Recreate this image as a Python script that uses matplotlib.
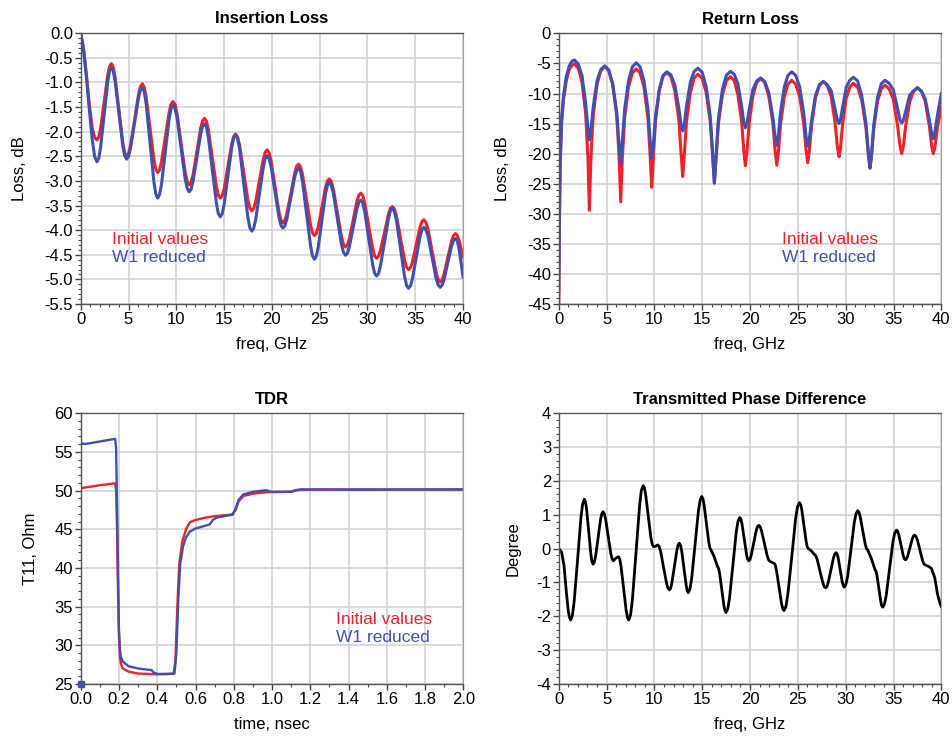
import matplotlib.pyplot as plt
from matplotlib.ticker import MultipleLocator, FormatStrFormatter

plt.rcParams['font.family'] = ['Liberation Sans', 'DejaVu Sans']
plt.rcParams['axes.unicode_minus'] = False

RED = '#EE2229'
BLUE = '#4050B0'

# ---------------- Insertion loss (S21, dB) ----------------
il_freq = [0, 0.3, 0.6, 0.9, 1.2, 1.45, 1.7,
           1.89, 2.08, 2.45, 2.83, 3.01, 3.2,
           3.4, 3.6, 4.0, 4.4, 4.6, 4.8,
           5.01, 5.21, 5.63, 6.04, 6.24, 6.45,
           6.65, 6.85, 7.25, 7.65, 7.85, 8.05,
           8.25, 8.45, 8.85, 9.25, 9.45, 9.65,
           9.86, 10.08, 10.5, 10.93, 11.14, 11.35,
           11.55, 11.75, 12.15, 12.55, 12.75, 12.95,
           13.16, 13.36, 13.78, 14.19, 14.39, 14.6,
           14.8, 15.0, 15.4, 15.8, 16.0, 16.2,
           16.41, 16.63, 17.05, 17.48, 17.69, 17.9,
           18.1, 18.3, 18.7, 19.1, 19.3, 19.5,
           19.71, 19.91, 20.33, 20.74, 20.94, 21.15,
           21.36, 21.56, 21.98, 22.39, 22.59, 22.8,
           23.01, 23.21, 23.63, 24.04, 24.24, 24.45,
           24.64, 24.84, 25.23, 25.61, 25.81, 26.0,
           26.21, 26.43, 26.85, 27.28, 27.49, 27.7,
           27.9, 28.1, 28.5, 28.9, 29.1, 29.3,
           29.51, 29.71, 30.13, 30.54, 30.74, 30.95,
           31.16, 31.36, 31.78, 32.19, 32.39, 32.6,
           32.81, 33.03, 33.45, 33.88, 34.09, 34.3,
           34.5, 34.7, 35.1, 35.5, 35.7, 35.9,
           36.11, 36.33, 36.75, 37.18, 37.39, 37.6,
           37.8, 38.0, 38.4, 38.8, 39.0, 39.2,
           39.4, 39.6, 40]

il_initial = [0, -0.33, -0.85, -1.45, -1.92, -2.12, -2.17,
              -2.11, -1.94, -1.40, -0.85, -0.68, -0.62,
              -0.69, -0.90, -1.56, -2.22, -2.43, -2.50,
              -2.44, -2.28, -1.77, -1.25, -1.09, -1.03,
              -1.10, -1.30, -1.93, -2.56, -2.76, -2.83,
              -2.78, -2.61, -2.11, -1.61, -1.45, -1.39,
              -1.45, -1.64, -2.24, -2.83, -3.02, -3.08,
              -3.03, -2.88, -2.41, -1.93, -1.78, -1.73,
              -1.79, -1.97, -2.54, -3.11, -3.29, -3.35,
              -3.30, -3.16, -2.70, -2.25, -2.10, -2.05,
              -2.11, -2.28, -2.83, -3.38, -3.55, -3.61,
              -3.56, -3.42, -2.99, -2.56, -2.42, -2.37,
              -2.43, -2.59, -3.11, -3.63, -3.79, -3.85,
              -3.80, -3.67, -3.26, -2.84, -2.70, -2.66,
              -2.72, -2.88, -3.39, -3.89, -4.05, -4.11,
              -4.07, -3.94, -3.54, -3.13, -3.00, -2.96,
              -3.01, -3.17, -3.65, -4.13, -4.29, -4.34,
              -4.30, -4.18, -3.80, -3.41, -3.29, -3.25,
              -3.30, -3.45, -3.91, -4.37, -4.52, -4.57,
              -4.53, -4.41, -4.05, -3.68, -3.56, -3.52,
              -3.57, -3.71, -4.16, -4.61, -4.75, -4.80,
              -4.76, -4.65, -4.30, -3.94, -3.83, -3.79,
              -3.84, -3.98, -4.42, -4.86, -5.00, -5.05,
              -5.01, -4.90, -4.56, -4.22, -4.11, -4.07,
              -4.11, -4.22, -4.54]

il_w1 = [0, -0.33, -0.9, -1.55, -2.15, -2.5, -2.61,
         -2.54, -2.32, -1.66, -0.99, -0.77, -0.70,
         -0.77, -0.98, -1.63, -2.28, -2.49, -2.56,
         -2.50, -2.34, -1.83, -1.32, -1.16, -1.10,
         -1.19, -1.44, -2.23, -3.01, -3.26, -3.35,
         -3.28, -3.07, -2.41, -1.74, -1.53, -1.46,
         -1.53, -1.72, -2.34, -2.96, -3.15, -3.22,
         -3.17, -3.01, -2.53, -2.05, -1.89, -1.84,
         -1.91, -2.12, -2.79, -3.45, -3.66, -3.73,
         -3.67, -3.48, -2.90, -2.32, -2.13, -2.07,
         -2.14, -2.36, -3.05, -3.73, -3.95, -4.02,
         -3.96, -3.79, -3.26, -2.72, -2.55, -2.49,
         -2.55, -2.71, -3.23, -3.74, -3.90, -3.96,
         -3.91, -3.78, -3.35, -2.92, -2.79, -2.74,
         -2.81, -3.02, -3.67, -4.31, -4.52, -4.59,
         -4.53, -4.36, -3.81, -3.26, -3.09, -3.03,
         -3.09, -3.25, -3.77, -4.29, -4.45, -4.51,
         -4.47, -4.34, -3.95, -3.56, -3.43, -3.39,
         -3.45, -3.62, -4.16, -4.70, -4.87, -4.93,
         -4.88, -4.72, -4.25, -3.77, -3.61, -3.56,
         -3.62, -3.80, -4.37, -4.94, -5.12, -5.18,
         -5.13, -4.99, -4.56, -4.13, -3.99, -3.94,
         -3.99, -4.12, -4.55, -4.98, -5.11, -5.16,
         -5.12, -5.01, -4.67, -4.32, -4.21, -4.17,
         -4.22, -4.40, -4.95]

# ---------------- Return loss (S11, dB) ----------------
rl_freq = [0, 0.05, 0.15, 0.3, 0.5, 0.8, 1.1, 1.4, 1.65,
           2.04, 2.43, 2.81, 3.05, 3.2, 3.36, 3.6, 4.0, 4.4, 4.8,
           5.22, 5.64, 6.06, 6.31, 6.48, 6.64, 6.89, 7.29, 7.7, 8.1,
           8.5, 8.91, 9.32, 9.56, 9.72, 9.88, 10.12, 10.51, 10.9, 11.3,
           11.72, 12.13, 12.55, 12.79, 12.96, 13.12, 13.36, 13.76, 14.15, 14.55,
           14.98, 15.41, 15.84, 16.1, 16.27, 16.44, 16.69, 17.11, 17.53, 17.95,
           18.34, 18.73, 19.12, 19.35, 19.51, 19.67, 19.91, 20.3, 20.7, 21.1,
           21.53, 21.95, 22.38, 22.63, 22.8, 22.96, 23.19, 23.58, 23.96, 24.35,
           24.77, 25.19, 25.61, 25.86, 26.03, 26.19, 26.44, 26.84, 27.25, 27.65,
           28.06, 28.48, 28.89, 29.14, 29.3, 29.45, 29.68, 30.05, 30.43, 30.8,
           31.24, 31.67, 32.11, 32.37, 32.54, 32.7, 32.93, 33.32, 33.71, 34.1,
           34.54, 34.98, 35.41, 35.68, 35.85, 36.02, 36.26, 36.68, 37.09, 37.5,
           37.92, 38.33, 38.75, 39.0, 39.16, 39.32, 39.6, 40]

rl_initial = [-46, -35, -22, -15, -11, -7.8, -6.0, -5.3, -5.1,
              -5.8, -8.1, -13.3, -20.5, -29.4, -20.9, -13.7, -8.5, -6.2, -5.5,
              -6.2, -8.5, -13.7, -20.6, -28.0, -21.0, -14.1, -8.9, -6.6, -5.9,
              -6.6, -8.9, -14.0, -20.5, -25.6, -20.9, -14.5, -9.5, -7.15, -6.5,
              -7.15, -9.5, -14.3, -20.0, -23.8, -20.3, -14.6, -9.8, -7.45, -6.8,
              -7.45, -9.8, -14.7, -20.7, -24.9, -21.0, -15.1, -10.2, -7.85, -7.2,
              -7.85, -10.2, -14.7, -19.6, -22.0, -19.8, -14.9, -10.4, -8.15, -7.5,
              -8.15, -10.4, -14.8, -19.7, -21.9, -19.8, -15.1, -10.6, -8.45, -7.8,
              -8.45, -10.5, -15.0, -19.5, -21.5, -19.6, -15.2, -10.7, -8.65, -8.0,
              -8.65, -10.5, -14.9, -19.0, -20.5, -19.1, -15.0, -10.8, -8.95, -8.3,
              -8.95, -11.1, -15.6, -20.3, -22.4, -20.4, -15.9, -11.3, -9.25, -8.6,
              -9.25, -11.0, -15.2, -18.7, -20.0, -18.85, -15.5, -11.4, -9.65, -9.0,
              -9.65, -11.4, -15.5, -18.9, -20.0, -19.0, -15.5, -12.2]

rl_w1 = [-43.2, -33, -21, -14, -10.3, -7.1, -5.4, -4.6, -4.43,
         -5.1, -7.0, -11.5, -15.8, -17.7, -16.2, -12.25, -7.9, -6.0, -5.4,
         -6.05, -8.4, -13.1, -18.5, -21.6, -18.2, -12.6, -7.9, -5.55, -4.9,
         -5.55, -7.9, -12.5, -17.9, -20.8, -18.6, -13.8, -9.3, -7.0, -6.4,
         -6.9, -8.55, -12.35, -15.2, -16.2, -15.2, -12.05, -8.1, -6.35, -5.8,
         -6.45, -8.8, -13.8, -20.2, -24.9, -20.5, -14.2, -9.3, -6.95, -6.3,
         -6.8, -8.4, -12.1, -14.8, -15.7, -15.0, -12.7, -9.3, -7.9, -7.4,
         -8.0, -9.8, -13.9, -17.4, -18.6, -17.0, -13.1, -8.9, -7.0, -6.4,
         -7.0, -8.9, -13.25, -17.2, -18.7, -17.6, -14.35, -10.3, -8.55, -8.0,
         -8.5, -9.55, -12.6, -14.5, -15.0, -14.4, -12.25, -9.0, -7.8, -7.3,
         -7.9, -10.3, -14.8, -19.8, -22.4, -20.1, -15.2, -10.7, -8.4, -7.8,
         -8.3, -9.4, -12.4, -14.4, -14.9, -14.5, -13.0, -10.3, -9.55, -9.1,
         -9.6, -11.0, -14.45, -16.8, -17.5, -16.4, -13.5, -10.0]

# ---------------- TDR (T11, Ohm) ----------------
tdr_t_initial = [0, 0.01, 0.1, 0.18, 0.185, 0.19, 0.195, 0.2, 0.205, 0.21, 0.22,
                 0.25, 0.3, 0.4, 0.485, 0.495, 0.505, 0.515, 0.53, 0.55, 0.57,
                 0.6, 0.65, 0.7, 0.79, 0.81, 0.825, 0.85, 0.9, 0.95, 1.0, 1.1,
                 1.12, 1.15, 1.3, 2.0]
tdr_initial = [50.2, 50.35, 50.7, 50.95, 50.0, 45, 37, 31, 28.6, 27.6, 27.0,
               26.6, 26.35, 26.25, 26.3, 28, 35, 40.5, 43.3, 45.0, 45.9,
               46.2, 46.5, 46.7, 46.9, 47.5, 48.6, 49.3, 49.6, 49.75, 49.82, 49.85,
               50.0, 50.12, 50.12, 50.15]

tdr_t_w1 = [0, 0.01, 0.03, 0.1, 0.18, 0.185, 0.19, 0.195, 0.2, 0.205, 0.21, 0.22,
            0.25, 0.3, 0.35, 0.37, 0.38, 0.4, 0.45, 0.49, 0.5, 0.51, 0.52, 0.535,
            0.55, 0.57, 0.6, 0.65, 0.675, 0.69, 0.71, 0.75, 0.795, 0.81, 0.825,
            0.85, 0.9, 0.97, 1.0, 1.1, 1.12, 1.15, 1.3, 2.0]
tdr_w1 = [56.3, 56.05, 56.05, 56.35, 56.7, 55.5, 48, 39, 32, 29.5, 28.5, 27.9,
          27.3, 27.0, 26.85, 26.8, 26.5, 26.3, 26.3, 26.35, 29, 36, 40.5, 42.8,
          43.9, 44.7, 45.1, 45.45, 45.65, 46.2, 46.5, 46.7, 46.9, 47.7, 48.8,
          49.5, 49.85, 50.05, 49.83, 49.85, 50.05, 50.15, 50.15, 50.15]

# ---------------- Transmitted phase difference (deg) ----------------
ph_freq = [0, 0.3, 0.55, 0.8, 1.0, 1.12, 1.25,
           1.43, 1.61, 1.97, 2.32, 2.50, 2.68,
           2.79, 2.91, 3.14, 3.36, 3.48, 3.59,
           3.72, 3.85, 4.11, 4.37, 4.5, 4.63,
           4.77, 4.9, 5.17, 5.44, 5.58, 5.71,
           5.98, 6.24,
           6.38, 6.51, 6.78, 7.05, 7.19, 7.32,
           7.51, 7.7, 8.07, 8.45, 8.63, 8.82,
           8.96, 9.09, 9.36, 9.63, 9.77, 9.9,
           10.12, 10.35,
           10.5, 10.66, 10.96, 11.27, 11.42, 11.57,
           11.7, 11.83, 12.09, 12.35, 12.48, 12.61,
           12.73, 12.85, 13.08, 13.32, 13.43, 13.55,
           13.72, 13.9, 14.25, 14.6, 14.78, 14.95,
           15.07, 15.19, 15.44, 15.68, 15.8, 15.92,
           16.26, 16.6,
           16.71, 16.82, 17.05, 17.27, 17.38, 17.49,
           17.67, 17.85, 18.2, 18.56, 18.74, 18.92,
           19.04, 19.16, 19.39, 19.63, 19.74, 19.86,
           19.99, 20.12, 20.38, 20.64, 20.77, 20.9,
           21.05, 21.2, 21.5, 21.8, 21.95, 22.1,
           22.5,
           22.63, 22.76, 23.03, 23.29, 23.42, 23.55,
           23.75, 23.95, 24.36, 24.76, 24.96, 25.16,
           25.28, 25.4, 25.63, 25.87, 25.98, 26.1,
           26.41, 26.72,
           26.87, 27.02, 27.31, 27.61, 27.75, 27.9,
           28.04, 28.17, 28.45, 28.72, 28.85, 28.99,
           29.1, 29.21, 29.43, 29.64, 29.75, 29.86,
           30.03, 30.21, 30.56, 30.9, 31.08, 31.25,
           31.38, 31.51, 31.78, 32.04, 32.17, 32.3,
           32.69, 33.07,
           33.17, 33.27, 33.47, 33.67, 33.77, 33.87,
           34.05, 34.23, 34.59, 34.94, 35.12, 35.3,
           35.42, 35.54, 35.77, 36.01, 36.12, 36.24,
           36.36, 36.48, 36.72, 36.96, 37.08, 37.2,
           37.34, 37.48, 37.75, 38.03, 38.16, 38.3,
           38.62, 38.95,
           39.3, 39.6, 39.85, 40]

ph_diff = [0.0, -0.1, -0.5, -1.3, -1.85, -2.03, -2.11,
           -1.97, -1.57, -0.33, 0.92, 1.32, 1.46,
           1.39, 1.17, 0.50, -0.17, -0.39, -0.46,
           -0.40, -0.23, 0.32, 0.86, 1.03, 1.09,
           1.03, 0.87, 0.37, -0.14, -0.30, -0.36,
           -0.28, -0.24,
           -0.31, -0.52, -1.18, -1.83, -2.04, -2.11,
           -1.96, -1.51, -0.13, 1.26, 1.71, 1.86,
           1.79, 1.59, 0.96, 0.33, 0.13, 0.06,
           0.07, 0.11,
           0.06, -0.09, -0.56, -1.02, -1.17, -1.22,
           -1.17, -1.01, -0.53, -0.05, 0.11, 0.16,
           0.10, -0.06, -0.57, -1.08, -1.24, -1.30,
           -1.19, -0.87, 0.12, 1.11, 1.43, 1.54,
           1.48, 1.30, 0.75, 0.20, 0.02, -0.04,
           -0.25, -0.53,
           -0.58, -0.73, -1.21, -1.69, -1.84, -1.89,
           -1.78, -1.47, -0.49, 0.50, 0.81, 0.92,
           0.87, 0.73, 0.28, -0.17, -0.31, -0.36,
           -0.32, -0.20, 0.17, 0.53, 0.65, 0.69,
           0.65, 0.53, 0.16, -0.22, -0.34, -0.38,
           -0.43,
           -0.48, -0.64, -1.13, -1.62, -1.78, -1.83,
           -1.71, -1.35, -0.24, 0.88, 1.24, 1.36,
           1.31, 1.16, 0.68, 0.20, 0.05, 0.0,
           -0.07, -0.17,
           -0.21, -0.32, -0.67, -1.01, -1.12, -1.16,
           -1.12, -1.0, -0.64, -0.28, -0.16, -0.12,
           -0.16, -0.27, -0.63, -0.99, -1.10, -1.14,
           -1.05, -0.80, -0.01, 0.78, 1.03, 1.12,
           1.08, 0.95, 0.54, 0.13, 0.0, -0.04,
           -0.3, -0.63,
           -0.67, -0.80, -1.18, -1.57, -1.69, -1.73,
           -1.64, -1.39, -0.59, 0.21, 0.46, 0.55,
           0.52, 0.42, 0.11, -0.20, -0.30, -0.33,
           -0.30, -0.22, 0.04, 0.29, 0.37, 0.40,
           0.37, 0.27, -0.04, -0.35, -0.45, -0.48,
           -0.52, -0.58,
           -0.85, -1.35, -1.62, -1.71]

TICK_SIZE = 12
NOTE_SIZE = 12.5


def style_axes(ax, title, xlabel, ylabel, xmajor, xminor, ymajor, yminor, yfmt, xfmt, ylab_x):
    ax.set_title(title, fontsize=12, fontweight='bold', pad=7)
    ax.xaxis.set_major_locator(MultipleLocator(xmajor))
    ax.xaxis.set_minor_locator(MultipleLocator(xminor))
    ax.yaxis.set_major_locator(MultipleLocator(ymajor))
    ax.yaxis.set_minor_locator(MultipleLocator(yminor))
    ax.yaxis.set_major_formatter(FormatStrFormatter(yfmt))
    ax.xaxis.set_major_formatter(FormatStrFormatter(xfmt))
    ax.tick_params(which='major', direction='out', length=4, width=1, colors='#444444',
                   labelcolor='black', labelsize=TICK_SIZE, pad=1.5)
    ax.tick_params(which='minor', direction='out', length=2.5, width=0.8, colors='#444444')
    ax.grid(which='major', color='#D0D0D0', lw=1.1)
    ax.set_axisbelow(True)
    for side in ['top', 'bottom', 'left']:
        ax.spines[side].set_color('#555555')
        ax.spines[side].set_linewidth(1.0)
    ax.spines['right'].set_color('#A0A0A0')
    ax.set_xlabel(xlabel, fontsize=TICK_SIZE)
    ax.set_ylabel(ylabel, fontsize=TICK_SIZE)
    ax.xaxis.set_label_coords(0.5, -0.122)
    ax.yaxis.set_label_coords(ylab_x, 0.5)


fig = plt.figure(figsize=(9.53, 7.38), dpi=100)

# Insertion loss
ax1 = fig.add_axes([0.0847, 0.588, 0.4012, 0.3672])
ax1.plot(il_freq, il_initial, color=RED, lw=2.2)
ax1.plot(il_freq, il_w1, color=BLUE, lw=2.2)
ax1.set_xlim(0, 40)
ax1.set_ylim(-5.5, 0)
style_axes(ax1, 'Insertion Loss', 'freq, GHz', 'Loss, dB', 5, 1, 0.5, 0.1, '%.1f', '%d', -0.14)
ax1.text(3.3, -4.18, 'Initial values', color=RED, fontsize=NOTE_SIZE, va='center')
ax1.text(3.3, -4.56, 'W1 reduced', color=BLUE, fontsize=NOTE_SIZE, va='center')

# Return loss
ax2 = fig.add_axes([0.5863, 0.588, 0.4015, 0.3668])
ax2.plot(rl_freq, rl_initial, color=RED, lw=2.2)
ax2.plot(rl_freq, rl_w1, color=BLUE, lw=2.2)
ax2.set_xlim(0, 40)
ax2.set_ylim(-45, 0)
style_axes(ax2, 'Return Loss', 'freq, GHz', 'Loss, dB', 5, 1, 5, 1, '%d', '%d', -0.127)
ax2.text(23.3, -34.2, 'Initial values', color=RED, fontsize=NOTE_SIZE, va='center')
ax2.text(23.3, -37.3, 'W1 reduced', color=BLUE, fontsize=NOTE_SIZE, va='center')

# TDR
ax3 = fig.add_axes([0.0847, 0.0732, 0.4015, 0.3668])
ax3.plot(tdr_t_initial, tdr_initial, color=RED, lw=1.7)
ax3.plot(tdr_t_w1, tdr_w1, color=BLUE, lw=1.7)
ax3.plot([0], [25], marker='s', ms=4, color=BLUE, clip_on=False, zorder=5)
ax3.set_xlim(0, 2.0)
ax3.set_ylim(25, 60)
style_axes(ax3, 'TDR', 'time, nsec', 'T11, Ohm', 0.2, 0.1, 5, 1, '%d', '%.1f', -0.112)
ax3.text(1.335, 33.3, 'Initial values', color=RED, fontsize=NOTE_SIZE, va='center')
ax3.text(1.335, 31.0, 'W1 reduced', color=BLUE, fontsize=NOTE_SIZE, va='center')

# Phase difference
ax4 = fig.add_axes([0.5863, 0.0732, 0.4015, 0.3668])
ax4.plot(ph_freq, ph_diff, color='black', lw=2.0)
ax4.set_xlim(0, 40)
ax4.set_ylim(-4, 4)
style_axes(ax4, 'Transmitted Phase Difference', 'freq, GHz', 'Degree', 5, 1, 1, 0.2, '%d', '%d', -0.099)

fig.savefig('out.png', dpi=100)
